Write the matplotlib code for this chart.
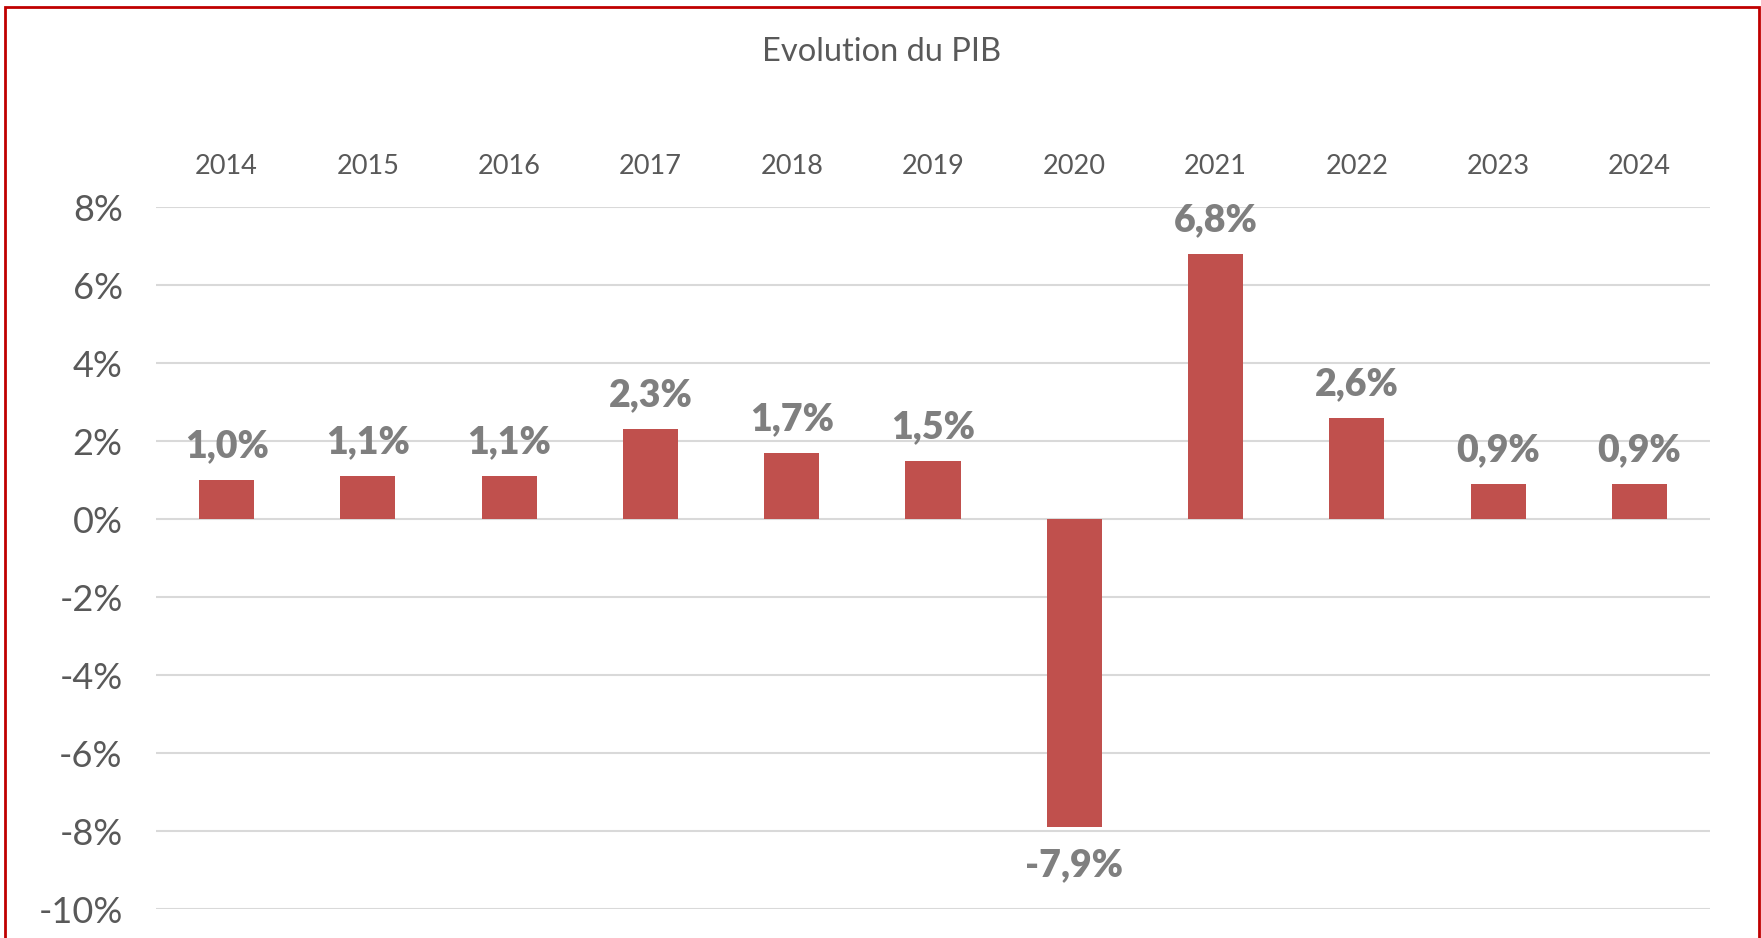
import matplotlib
matplotlib.use("Agg")
import matplotlib.pyplot as plt
from matplotlib.patches import Rectangle
from matplotlib.ticker import FuncFormatter, MultipleLocator

years = ["2014", "2015", "2016", "2017", "2018", "2019", "2020", "2021", "2022", "2023", "2024"]
pib = [1.0, 1.1, 1.1, 2.3, 1.7, 1.5, -7.9, 6.8, 2.6, 0.9, 0.9]
title = "Evolution du PIB"

W, H = 1761, 938
fig = plt.figure(figsize=(W / 100, H / 100), dpi=100)
plt.rcParams['font.family'] = ['Lato', 'DejaVu Sans']

# red frame
fig.patches.append(Rectangle((5 / W, -0.1), (1759 - 5) / W, 1.1 - 7 / H,
                             transform=fig.transFigure, fill=False,
                             edgecolor="#C00000", linewidth=2))

x0, x1 = 156, 1710
ytop, ybot = 207, 909
ax = fig.add_axes([x0 / W, 1 - ybot / H, (x1 - x0) / W, (ybot - ytop) / H])

xs = list(range(len(years)))
ax.bar(xs, pib, width=0.39, color="#C0504D", zorder=3)
ax.set_xlim(-0.5, len(years) - 0.5)
ax.set_ylim(-10, 8)
ax.yaxis.set_major_locator(MultipleLocator(2))
ax.yaxis.set_major_formatter(FuncFormatter(lambda v, p: f"{v:.0f}%"))
ax.grid(axis="y", color="#D9D9D9", linewidth=1.5, zorder=0)
for s in ax.spines.values():
    s.set_visible(False)

ax.xaxis.tick_top()
ax.set_xticks(xs)
ax.set_xticklabels(years)
ax.tick_params(axis="x", length=0, pad=20, labelsize=19.5, labelcolor="#595959")
ax.tick_params(axis="y", length=0, pad=24, labelsize=26, labelcolor="#595959")

for x, v in zip(xs, pib):
    lab = f"{v:.1f}%".replace(".", ",")
    if v >= 0:
        ax.annotate(lab, (x, v), xytext=(0, 12), textcoords="offset points",
                    ha="center", va="bottom", fontsize=27, fontweight="heavy", color="#7F7F7F")
    else:
        ax.annotate(lab, (x, v), xytext=(0, -15), textcoords="offset points",
                    ha="center", va="top", fontsize=27, fontweight="heavy", color="#7F7F7F")

fig.text(882 / W, 1 - 52 / H, title, ha="center", va="center", fontsize=23.5, color="#595959")

fig.savefig("out.png", dpi=100)
